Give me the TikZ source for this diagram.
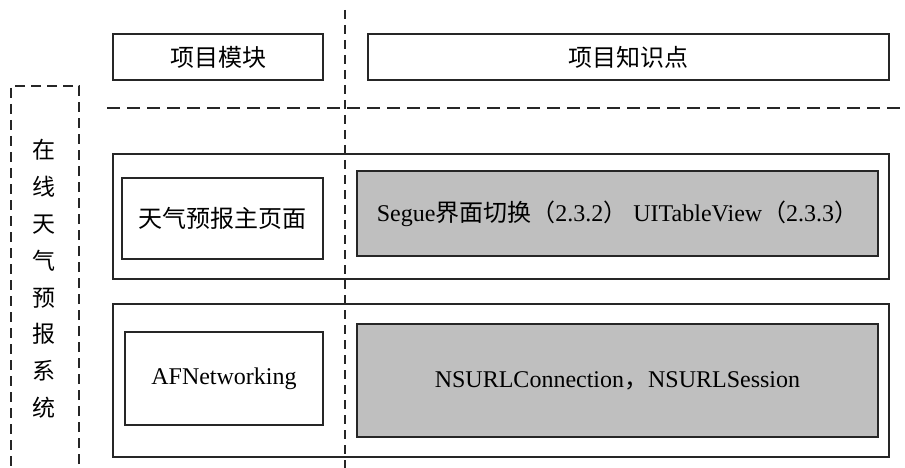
\documentclass[tikz,border=0pt]{standalone}
\usepackage{fontspec}
\setmainfont{Liberation Serif}
\newfontfamily\cjk{Noto Sans CJK SC}
\begin{document}
\begin{tikzpicture}[x=1pt,y=-1pt,
  box/.style={draw=black!85,line width=1.1pt,rectangle,inner sep=0pt,font=\fontsize{24}{27}\selectfont},
  greybox/.style={box,fill=black!25},
  sepline/.style={draw=black!85,line width=1.1pt}]
\useasboundingbox (0,0) rectangle (905,468);
% left dashed frame
\draw[sepline,dash pattern=on 10pt off 6pt] (79,480) -- (79,86) -- (11,86) -- (11,480);
\node[font=\fontsize{23}{36.8}\selectfont\cjk,align=center,inner sep=0pt] (sys) at (44,279)
  {在\\线\\天\\气\\预\\报\\系\\统};
% separators
\coordinate (vtop) at (345,10);
\coordinate (vbot) at (345,470);
\coordinate (hl) at (107,108);
\coordinate (hr) at (905,108);
\draw[sepline,dash pattern=on 9pt off 6pt] (vtop) -- (vbot);
\draw[sepline,dash pattern=on 13pt off 7pt] (hl) -- (hr);
% headers
\node[box,minimum width=210pt,minimum height=46pt] (h1) at (218,57) {\cjk 项目模块};
\node[box,minimum width=521pt,minimum height=46pt] (h2) at (628.5,57) {\cjk 项目知识点};
% row 1
\node[box,minimum width=776pt,minimum height=125pt] (o1) at (501,216.5) {};
\node[box,minimum width=201pt,minimum height=81pt] (m1) at (222.5,218.5) {\cjk 天气预报主页面};
\node[greybox,minimum width=521pt,minimum height=85pt] (k1) at (617.5,213.5)
  {Segue{\cjk 界面切换（}2.3.2{\cjk ）} UITableView{\cjk （}2.3.3{\cjk ）}};
% row 2
\node[box,minimum width=776pt,minimum height=153pt] (o2) at (501,380.5) {};
\node[box,minimum width=198pt,minimum height=93pt] (m2) at (224,378.5) {AFNetworking};
\node[greybox,minimum width=521pt,minimum height=113pt] (k2) at (617.5,380.5)
  {NSURLConnection{\cjk ，}NSURLSession};
\end{tikzpicture}
\end{document}
